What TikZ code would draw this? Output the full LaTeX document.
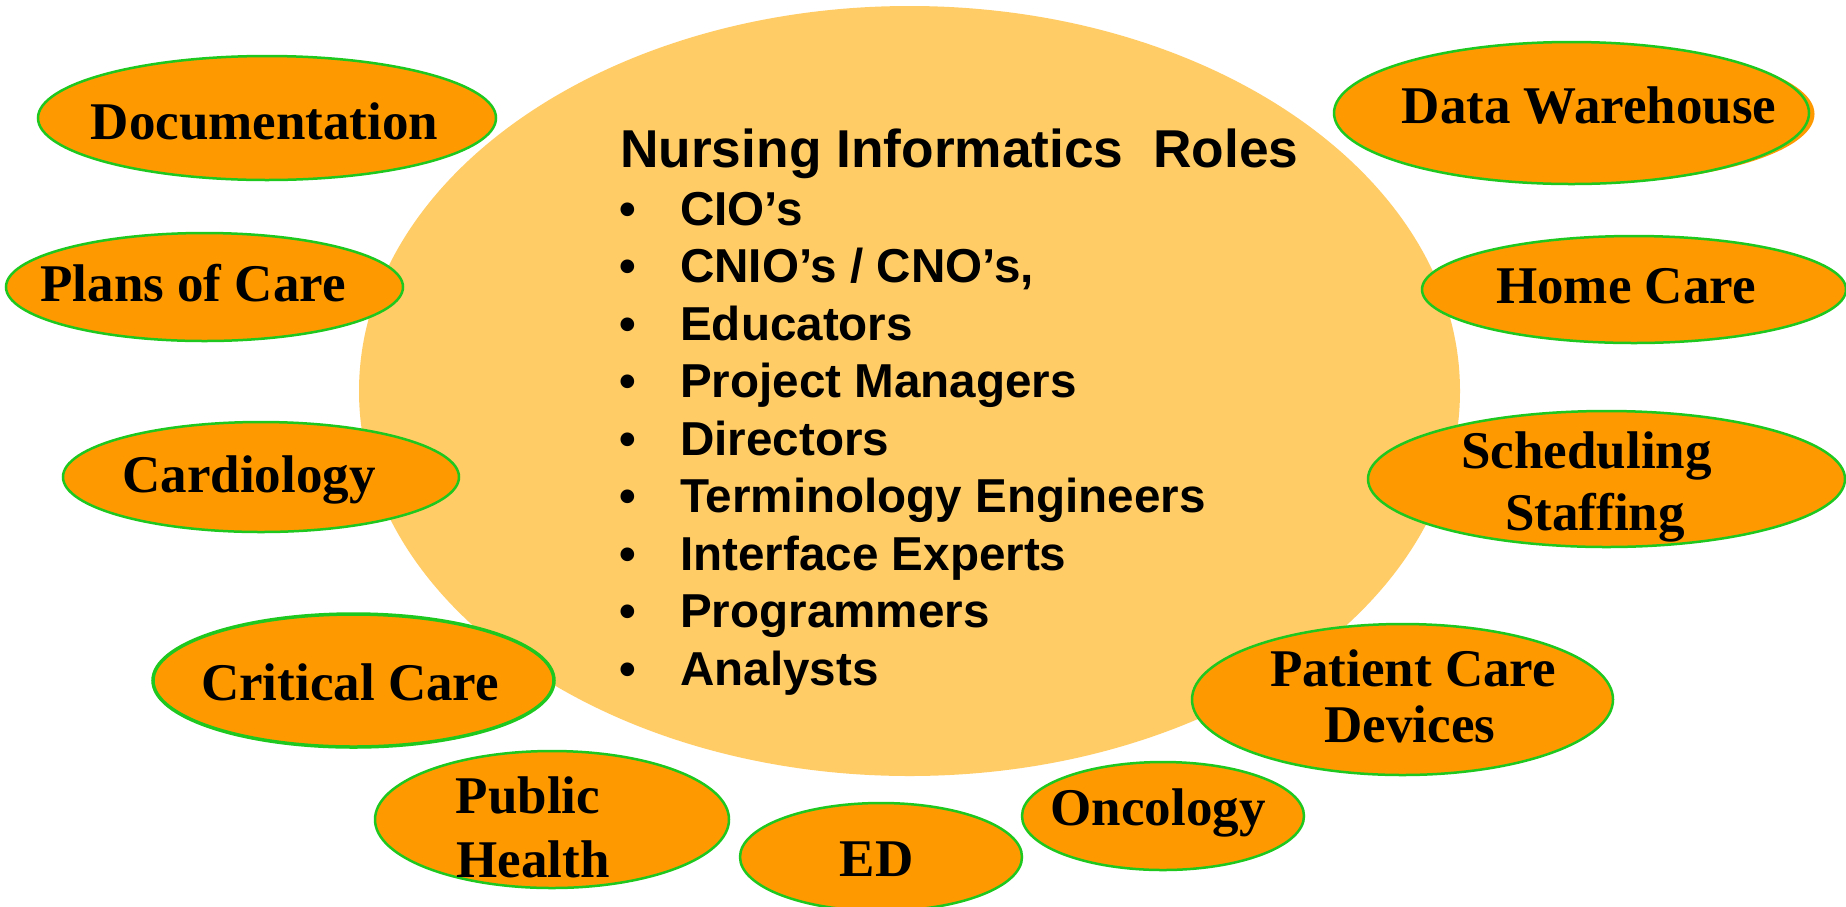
\documentclass[tikz,border=0pt]{standalone}
\usepackage{fontspec}
\setmainfont{Liberation Serif}
\setsansfont{Liberation Sans}
\usetikzlibrary{shapes.geometric}
\definecolor{bigfill}{RGB}{255,204,102}
\definecolor{bubfill}{RGB}{255,153,0}
\definecolor{bubline}{RGB}{30,200,30}
\begin{document}
\begin{tikzpicture}[x=1pt,y=-1pt,
  bigell/.style={ellipse, fill=bigfill, inner sep=0pt, outer sep=0pt},
  bubble/.style={ellipse, draw=bubline, line width=2.5pt, fill=bubfill, inner sep=0pt, outer sep=0pt},
  lbl/.style={anchor=base, inner sep=0pt, font=\bfseries\fontsize{53}{60}\selectfont},
  role/.style={anchor=base west, inner sep=0pt, font=\sffamily\bfseries\fontsize{47.6}{56}\selectfont},
  ttl/.style={anchor=base west, inner sep=0pt, font=\sffamily\bfseries\fontsize{53.3}{60}\selectfont}]
\useasboundingbox (0,0) rectangle (1846,906);
\clip (0,0) rectangle (1846,906);
\fill[white] (0,0) rectangle (1846,906);
% central ellipse
\node[bigell, minimum width=1101pt, minimum height=770pt] (center) at (909.5,391) {};
% title and list
\node[ttl] (title) at (620,167) {Nursing Informatics\ \ Roles};
\foreach \yy/\nm in {225/b1,282.5/b2,340/b3,397.5/b4,455/b5,512.5/b6,570/b7,627.5/b8,685/b9}
  \node[role] (\nm) at (619,\yy) {•};
\node[role] (r1) at (680,225) {CIO’s};
\node[role] (r2) at (680,282.5) {CNIO’s / CNO’s,};
\node[role] (r3) at (680,340) {Educators};
\node[role] (r4) at (680,397.5) {Project Managers};
\node[role] (r5) at (680,455) {Directors};
\node[role] (r6) at (680,512.5) {Terminology Engineers};
\node[role] (r7) at (680,570) {Interface Experts};
\node[role] (r8) at (680,627.5) {Programmers};
\node[role] (r9) at (680,685) {Analysts};
% bubbles
\node[bubble, minimum width=458pt, minimum height=124pt] (doc) at (267,118) {};
\node[lbl] (docT) at (264.5,139) {Documentation};
\node[bubble, minimum width=397pt, minimum height=108pt] (plans) at (204.5,287) {};
\node[lbl] (plansT) at (193,301) {Plans of Care};
\node[bubble, minimum width=396pt, minimum height=110pt] (cardio) at (261,477) {};
\node[lbl] (cardioT) at (249,492) {Cardiology};
\node[bubble, line width=3.5pt, minimum width=401pt, minimum height=133pt] (crit) at (353.5,680.5) {};
\node[lbl] (critT) at (350,700) {Critical Care};
\node[bubble, minimum width=354pt, minimum height=137pt] (pub) at (552,819.5) {};
\node[lbl] (pubT1) at (528,813) {Public};
\node[lbl] (pubT2) at (533,877) {Health};
\node[bubble, minimum width=282pt, minimum height=108pt] (ed) at (881,857) {};
\node[lbl] (edT) at (876.5,876) {ED};
\node[bubble, minimum width=282pt, minimum height=108pt] (onc) at (1163,816) {};
\node[lbl] (oncT) at (1158,825) {Oncology};
\node[bubble, minimum width=421pt, minimum height=151pt] (pcd) at (1402.5,699.5) {};
\node[lbl] (pcdT1) at (1413,686) {Patient Care};
\node[lbl] (pcdT2) at (1410,742) {Devices};
\node[bubble, minimum width=477pt, minimum height=136pt] (sched) at (1606.5,479) {};
\node[lbl] (schedT1) at (1586.5,468) {Scheduling};
\node[lbl] (schedT2) at (1595,530) {Staffing};
\node[bubble, minimum width=424pt, minimum height=107pt] (home) at (1634,289.5) {};
\node[lbl] (homeT) at (1626,303) {Home Care};
\node[ellipse, fill=bubfill, inner sep=0pt, minimum width=475pt, minimum height=140pt] (dwshadow) at (1577,114) {};
\node[bubble, minimum width=475pt, minimum height=142pt] (dw) at (1571.5,113) {};
\node[lbl] (dwT) at (1589,123) {Data Warehouse};
\end{tikzpicture}
\end{document}
